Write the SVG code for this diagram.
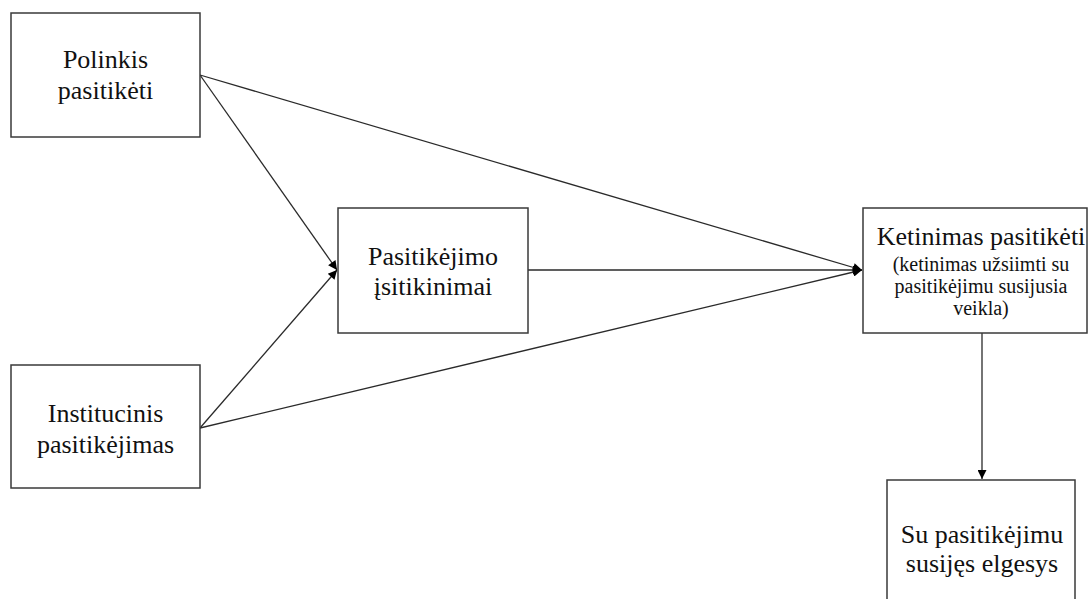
<svg xmlns="http://www.w3.org/2000/svg" width="1089" height="599" viewBox="0 0 1089 599">
<style>
.box{fill:#fff;stroke:#3a3a3a;stroke-width:1.5}
.t{font-family:"Liberation Serif","Times New Roman",serif;font-size:26px;fill:#111;text-anchor:middle}
.s{font-size:20px}
.c{stroke:#2a2a2a;stroke-width:1.3;fill:none;marker-end:url(#ah)}
</style>
<defs>
<marker id="ah" viewBox="0 0 10 10" refX="10" refY="5" markerWidth="11" markerHeight="9" markerUnits="userSpaceOnUse" orient="auto">
<path d="M0,0 L10,5 L0,10 z" fill="#000"/>
</marker>
</defs>
<rect width="1089" height="599" fill="#fff"/>
<g id="connectors">
<line class="c" x1="200" y1="75" x2="337" y2="270"/>
<line class="c" x1="200" y1="428" x2="337" y2="270"/>
<line class="c" x1="528" y1="270" x2="862" y2="270"/>
<line class="c" x1="200" y1="75" x2="862" y2="270"/>
<line class="c" x1="200" y1="428" x2="862" y2="270"/>
<line class="c" x1="982" y1="333" x2="982" y2="479"/>
</g>
<g id="polinkis">
<rect class="box" x="11" y="13" width="189" height="124"/>
<text class="t" x="105.5" y="68">Polinkis</text>
<text class="t" x="105.5" y="99">pasitikėti</text>
</g>
<g id="institucinis">
<rect class="box" x="11" y="365" width="189" height="123"/>
<text class="t" x="105.5" y="422">Institucinis</text>
<text class="t" x="105.5" y="453">pasitikėjimas</text>
</g>
<g id="isitikinimai">
<rect class="box" x="338" y="208" width="190" height="125"/>
<text class="t" x="433" y="265">Pasitikėjimo</text>
<text class="t" x="433" y="295">įsitikinimai</text>
</g>
<g id="ketinimas">
<rect class="box" x="863" y="208" width="224" height="125"/>
<text class="t" x="981" y="245">Ketinimas pasitikėti</text>
<text class="t s" x="981" y="271">(ketinimas užsiimti su</text>
<text class="t s" x="981" y="293">pasitikėjimu susijusia</text>
<text class="t s" x="981" y="315">veikla)</text>
</g>
<g id="elgesys">
<rect class="box" x="887" y="480" width="188" height="130"/>
<text class="t" x="982" y="543">Su pasitikėjimu</text>
<text class="t" x="982" y="572">susijęs elgesys</text>
</g>
</svg>
